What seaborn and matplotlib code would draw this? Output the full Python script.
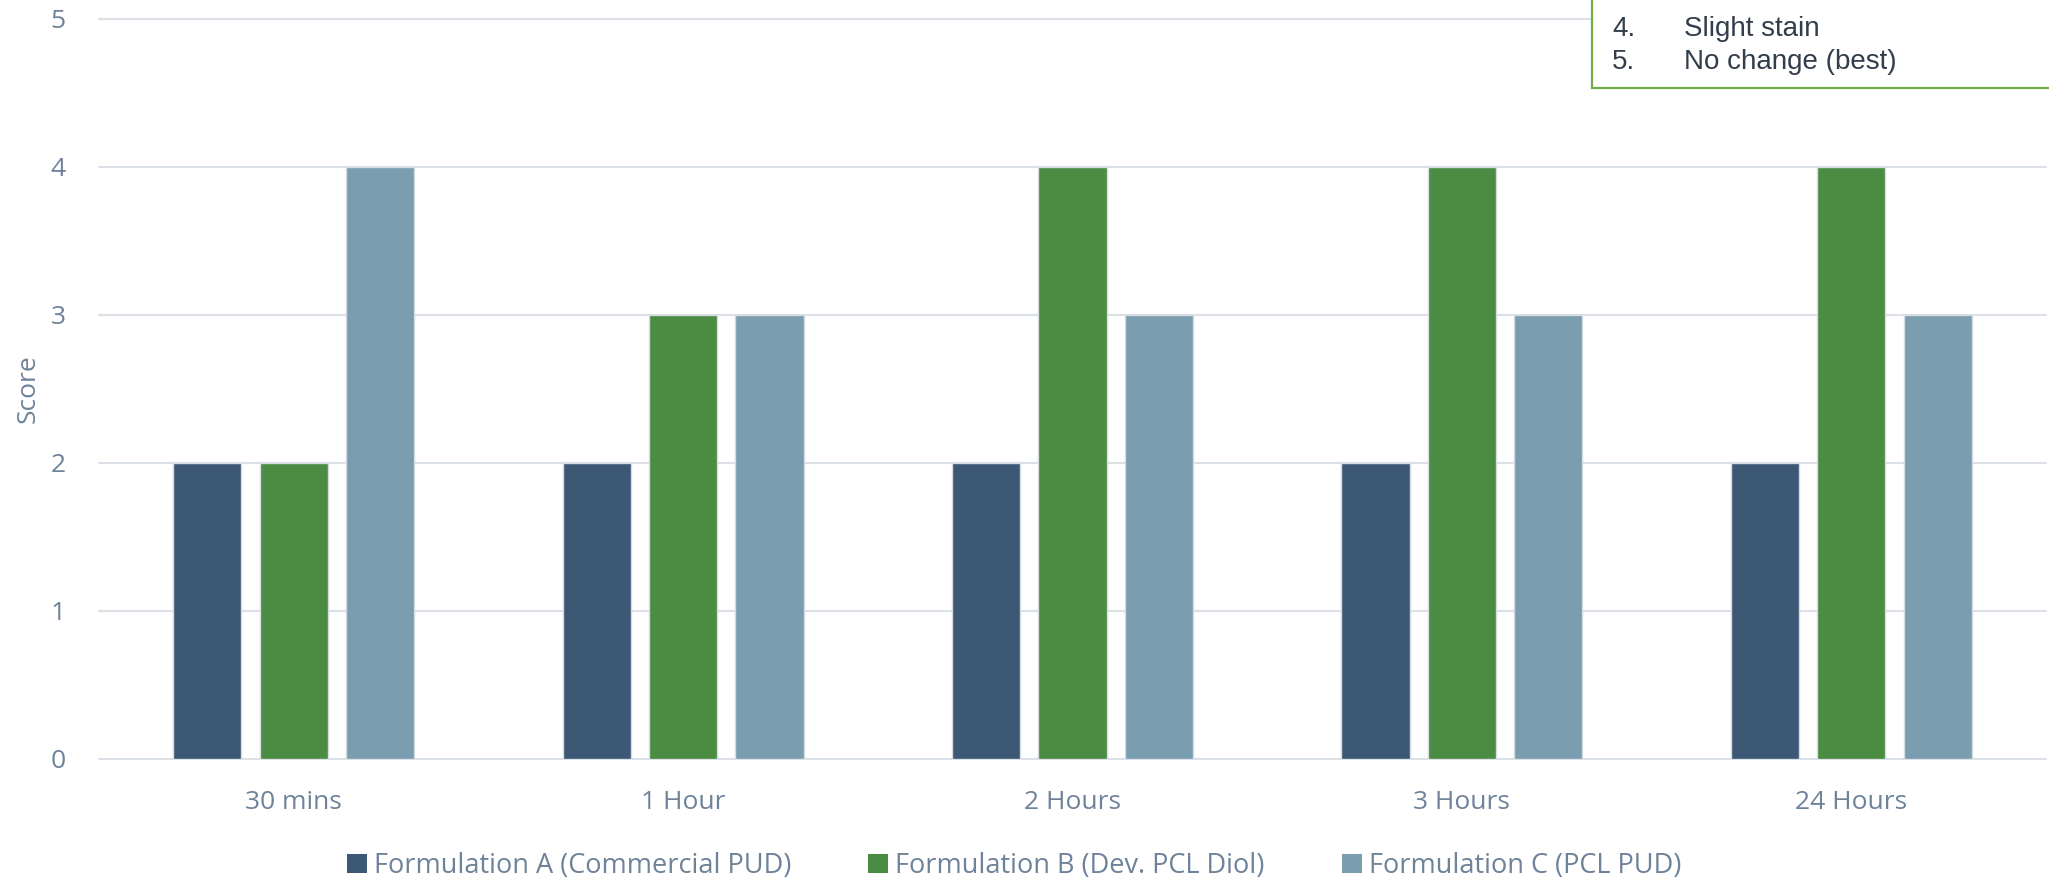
import matplotlib
matplotlib.use("Agg")
import matplotlib.pyplot as plt
from matplotlib.patches import Rectangle, Patch
import seaborn as sns
import pandas as pd

# Stain resistance scores (1 = worst, 5 = no change)
time_points = ["30 mins", "1 Hour", "2 Hours", "3 Hours", "24 Hours"]
formulation_a = [2, 2, 2, 2, 2]
formulation_b = [2, 3, 4, 4, 4]
formulation_c = [4, 3, 3, 3, 3]
series_names = [
    "Formulation A (Commercial PUD)",
    "Formulation B (Dev. PCL Diol)",
    "Formulation C (PCL PUD)",
]
series_colors = ["#3D5875", "#4A8C42", "#7A9DB0"]
y_ticks = [0, 1, 2, 3, 4, 5]
scale_notes = [("4.", "Slight stain"), ("5.", "No change (best)")]

rows = []
for name, vals in zip(series_names, [formulation_a, formulation_b, formulation_c]):
    for t, v in zip(time_points, vals):
        rows.append({"time": t, "score": v, "formulation": name})
df = pd.DataFrame(rows)

sns.set_theme(style="white")
plt.rcParams["font.family"] = ["Open Sans", "DejaVu Sans"]

text_color = "#6E8299"
grid_color = "#DCE1E7"

fig = plt.figure(figsize=(20.49, 8.82), dpi=100)
ax = fig.add_axes([99 / 2049, 1 - 759 / 882, 1947 / 2049, (759 - 18.5) / 882])

sns.barplot(
    data=df, x="time", y="score", hue="formulation",
    order=time_points, hue_order=series_names,
    palette=series_colors, width=0.665, gap=0.21,
    edgecolor="#D5DBE3", linewidth=1.0, saturation=1.0,
    ax=ax, legend=False, zorder=3,
)

ax.set_xlim(-0.5, 4.5)
ax.set_ylim(0, 5)
ax.set_yticks(y_ticks)
for y in y_ticks:
    ax.axhline(y, color=grid_color, lw=1.5, zorder=1, clip_on=False)
for s in ax.spines.values():
    s.set_visible(False)

ax.tick_params(axis="both", length=0, labelsize=19, colors=text_color)
ax.tick_params(axis="y", pad=24)
ax.tick_params(axis="x", pad=22)
ax.set_xlabel("")
ax.set_ylabel("Score", fontsize=19, color=text_color, labelpad=7)

handles = [Patch(facecolor=c, edgecolor="none") for c in series_colors]
fig.legend(
    handles, series_names, loc="center", bbox_to_anchor=(1014 / 2049, 1 - 866 / 882),
    ncol=3, frameon=False, fontsize=19.5, labelcolor=text_color,
    handlelength=0.74, handleheight=0.74, handletextpad=0.26, columnspacing=2.85,
)

# Scoring key box in the upper right corner
box = Rectangle((1592 / 2049, 1 - 88 / 882), 0.3, 0.2, transform=fig.transFigure,
                facecolor="white", edgecolor="#70AD47", lw=1.6, clip_on=False, zorder=5)
fig.add_artist(box)
for i, (num, label) in enumerate(scale_notes):
    yb = 1 - (36 + 33 * i) / 882
    fig.text(1612 / 2049, yb, num, fontsize=20, family="Liberation Sans",
             color="#333E4C", va="baseline", zorder=6)
    fig.text(1684 / 2049, yb, label, fontsize=20, family="Liberation Sans",
             color="#333E4C", va="baseline", zorder=6)

fig.savefig("out.png", dpi=100, facecolor="white")
